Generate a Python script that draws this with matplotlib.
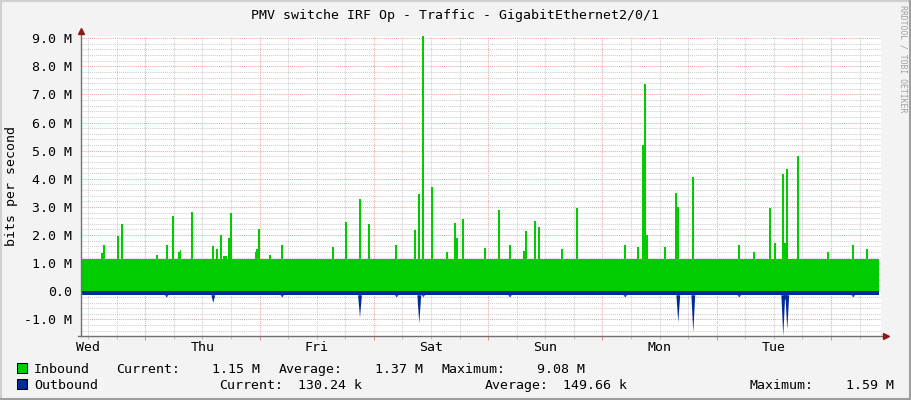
import matplotlib
matplotlib.use("Agg")
import matplotlib.pyplot as plt
from matplotlib.patches import Rectangle
from matplotlib.lines import Line2D
import numpy as np

plt.rcParams["font.family"] = ["DejaVu Sans Mono"]

W, H = 911, 400

# time axis: hours since the left edge of the graph (Wed ~10:30)
t_end = 167.6
day_names = ["Wed", "Thu", "Fri", "Sat", "Sun", "Mon", "Tue"]
day_noon = [1.5, 25.5, 49.5, 73.5, 97.5, 121.5, 145.5]
midnights = [13.5, 37.5, 61.5, 85.5, 109.5, 133.5, 157.5]

# values in Mbit/s
in_base = 1.16
in_t = [4.41, 4.89, 7.83, 8.55, 15.90, 18.12, 19.38, 20.60, 20.90, 23.37,
        27.78, 28.56, 29.46, 30.0, 30.5, 31.02, 31.44, 36.70, 36.96, 37.44,
        39.69, 42.27, 52.98, 55.71, 58.65, 60.54, 66.21, 70.20, 71.04, 71.88,
        73.77, 76.80, 78.60, 79.02, 80.28, 84.78, 87.84, 90.15, 93.03, 93.51,
        95.40, 96.24, 100.95, 104.22, 114.30, 117.03, 117.96, 118.38, 118.80,
        122.70, 125.01, 125.43, 128.58, 138.24, 141.39, 144.69, 145.80,
        147.48, 147.90, 148.32, 150.63, 156.93, 162.18, 165.12]
in_v = [1.37, 1.65, 1.98, 2.41, 1.28, 1.66, 2.69, 1.40, 1.47, 2.83,
        1.62, 1.50, 1.99, 1.25, 1.25, 1.90, 2.78, 1.40, 1.50, 2.23,
        1.28, 1.66, 1.58, 2.48, 3.29, 2.40, 1.66, 2.19, 3.47, 9.08,
        3.72, 1.41, 2.43, 1.90, 2.58, 1.53, 2.90, 1.66, 1.45, 2.15,
        2.51, 2.27, 1.52, 2.98, 1.66, 1.56, 5.21, 7.38, 2.01,
        1.59, 3.49, 3.00, 4.07, 1.65, 1.41, 2.96, 1.72,
        4.18, 1.72, 4.36, 4.82, 1.41, 1.65, 1.52]

out_base = 0.14
out_t = [18.0, 27.78, 42.27, 58.59, 66.30, 71.04, 71.88, 90.09, 114.30,
         125.43, 128.58, 138.24, 147.48, 147.90, 148.32, 162.18]
out_v = [0.21, 0.41, 0.21, 0.93, 0.21, 1.15, 0.20, 0.21, 0.21,
         1.10, 1.46, 0.21, 1.59, 0.32, 1.36, 0.21]

ytick_vals = [-1, 0, 1, 2, 3, 4, 5, 6, 7, 8, 9]
ytick_labels = ["-1.0 M", "0.0", "1.0 M", "2.0 M", "3.0 M", "4.0 M",
                "5.0 M", "6.0 M", "7.0 M", "8.0 M", "9.0 M"]

in_stats = ["1.15 M", "1.37 M", "9.08 M"]
out_stats = ["130.24 k", "149.66 k", "1.59 M"]

GREEN = "#00CC00"
BLUE = "#002A97"
FS = 9.5


def fx(px):
    return px / W


def fy(py):
    return 1 - py / H


fig = plt.figure(figsize=(W / 100, H / 100), dpi=100, facecolor="#F3F3F3")
ax = fig.add_axes([fx(81), fy(336), 800 / W, 300 / H])
ax.set_facecolor("white")
ax.set_xlim(0, 168)
ax.set_ylim(-1.59, 9.08)
for s in ax.spines.values():
    s.set_visible(False)

# grid
ax.set_axisbelow(True)
ax.set_xticks(midnights)
ax.set_xticks(np.arange(1.5, 168, 6), minor=True)
ax.set_xticklabels([])
ax.set_yticks(ytick_vals, labels=ytick_labels)
ax.set_yticks(np.arange(-1.4, 9.01, 0.2), minor=True)
ax.grid(which="minor", color="#CDCDCD", linestyle=(0, (1, 1)), linewidth=0.75)
ax.grid(which="major", color="#F0A6A6", linestyle=(0, (1, 1)), linewidth=0.75)
ax.tick_params(axis="y", which="both", length=0, pad=6.5, labelsize=FS)
ax.tick_params(axis="x", which="major", length=3, width=0.75, color="#E89090")
ax.tick_params(axis="x", which="minor", length=2, width=0.75, color="#C0C0C0")

# inbound
ax.fill_between([0, t_end], 0, in_base, color=GREEN, lw=0, zorder=3)
ax.bar(in_t, in_v, width=0.36, color=GREEN, lw=0, zorder=3)

# outbound (drawn below zero)
ax.fill_between([0, t_end], -out_base, 0, color=BLUE, lw=0, zorder=3)
for t, v in zip(out_t, out_v):
    ax.fill([t - 0.4, t, t + 0.4], [-out_base, -v, -out_base],
            color=BLUE, lw=0, zorder=3)

# axis lines with arrows
ax.plot([0, 0], [0, 1.018], transform=ax.transAxes, color="#707070",
        lw=1, clip_on=False, zorder=4)
ax.plot([-0.004, 1.006], [0, 0], transform=ax.transAxes, color="#707070",
        lw=1, clip_on=False, zorder=4)
ax.plot([0], [1.018], transform=ax.transAxes, marker="^", ms=4.5,
        color="#8B1A1A", clip_on=False, zorder=5)
ax.plot([1.006], [0], transform=ax.transAxes, marker=">", ms=4.5,
        color="#8B1A1A", clip_on=False, zorder=5)

# day labels
for name, t in zip(day_names, day_noon):
    ax.text(t, -15 / 300, name, transform=ax.get_xaxis_transform(),
            ha="center", va="baseline", fontsize=FS)

# texts
fig.text(fx(455), fy(19), "PMV switche IRF Op - Traffic - GigabitEthernet2/0/1",
         ha="center", va="baseline", fontsize=FS)
fig.text(fx(12), fy(186), "bits per second", rotation=90,
         ha="center", va="center", fontsize=FS)
fig.text(fx(903), fy(5), "RRDTOOL / TOBI OETIKER", rotation=270,
         ha="center", va="top", fontsize=5.9, color="#A0A0A0")

# legend
fig.add_artist(Rectangle((fx(17), fy(373)), 10 / W, 10 / H,
                         transform=fig.transFigure, facecolor=GREEN,
                         edgecolor="black", lw=0.75))
fig.add_artist(Rectangle((fx(17), fy(389)), 10 / W, 10 / H,
                         transform=fig.transFigure, facecolor=BLUE,
                         edgecolor="black", lw=0.75))

row1 = 373
fig.text(fx(34), fy(row1), "Inbound", va="baseline", fontsize=FS)
fig.text(fx(116.5), fy(row1), "Current:", va="baseline", fontsize=FS)
fig.text(fx(260), fy(row1), in_stats[0], ha="right", va="baseline", fontsize=FS)
fig.text(fx(279), fy(row1), "Average:", va="baseline", fontsize=FS)
fig.text(fx(423), fy(row1), in_stats[1], ha="right", va="baseline", fontsize=FS)
fig.text(fx(441), fy(row1), "Maximum:", va="baseline", fontsize=FS)
fig.text(fx(585), fy(row1), in_stats[2], ha="right", va="baseline", fontsize=FS)

row2 = 389
fig.text(fx(34), fy(row2), "Outbound", va="baseline", fontsize=FS)
fig.text(fx(219.5), fy(row2), "Current:", va="baseline", fontsize=FS)
fig.text(fx(362), fy(row2), out_stats[0], ha="right", va="baseline", fontsize=FS)
fig.text(fx(485), fy(row2), "Average:", va="baseline", fontsize=FS)
fig.text(fx(627), fy(row2), out_stats[1], ha="right", va="baseline", fontsize=FS)
fig.text(fx(749), fy(row2), "Maximum:", va="baseline", fontsize=FS)
fig.text(fx(893.5), fy(row2), out_stats[2], ha="right", va="baseline", fontsize=FS)

# 3d-ish frame around the canvas
fig.add_artist(Line2D([0, 1], [fy(0.5)] * 2, color="#CFCFCF", lw=1.5))
fig.add_artist(Line2D([fx(0.5)] * 2, [0, 1], color="#CFCFCF", lw=1.5))
fig.add_artist(Line2D([0, 1], [fy(399.2)] * 2, color="#9E9E9E", lw=1.5))
fig.add_artist(Line2D([fx(910.2)] * 2, [0, 1], color="#9E9E9E", lw=1.5))

fig.savefig("out.png", dpi=100, facecolor=fig.get_facecolor())
plt.close("all")
